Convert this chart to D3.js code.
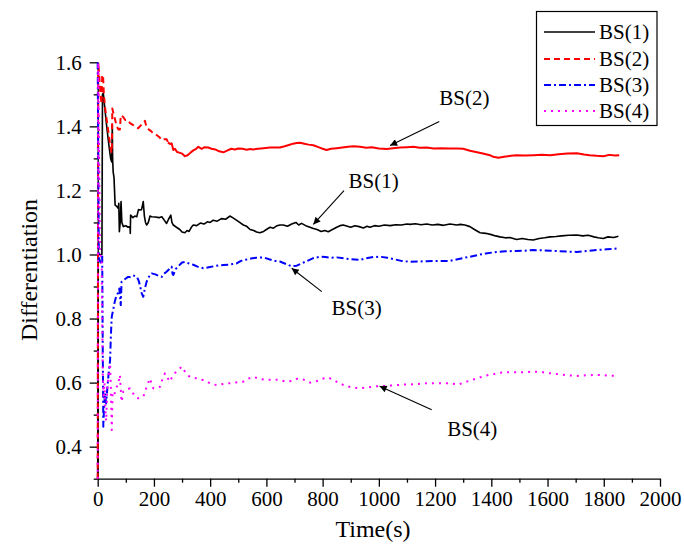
<!DOCTYPE html>
<html>
<head>
<meta charset="utf-8">
<script src="https://cdn.jsdelivr.net/npm/d3@7/dist/d3.min.js"></script>
<style>
  html, body { margin: 0; padding: 0; background: #fff; }
  svg { display: block; font-family: "Liberation Serif", "Times New Roman", serif; }
</style>
</head>
<body>
<svg id="chart" width="684" height="548"></svg>
<script>
// ---------- data (time in s, differentiation value) ----------
const seriesNames = ["BS(1)", "BS(2)", "BS(3)", "BS(4)"];

const bs1 = [[0,0.30],[2,1.00],[15,1.00],[17,1.50],[20,1.503],[26,1.451],[32,1.40],[40,1.34],[46,1.30],[50,1.289],[51,1.35],[52,1.404],[53,1.30],[55,1.258],[58,1.24],[62,1.154],[68,1.15],[73,1.144],[75,1.16],[77,1.071],[80,1.10],[83,1.165],[86,1.10],[91,1.087],[100,1.09],[108,1.085],[115,1.087],[116,1.066],[117,1.123],[125,1.115],[132,1.12],[139,1.118],[145,1.14],[150,1.139],[156,1.14],[162,1.165],[166,1.12],[170,1.10],[174,1.092],[180,1.10],[186,1.12],[192,1.118],[205,1.117],[218,1.115],[228,1.118],[236,1.108],[245,1.097],[252,1.11],[260,1.123],[264,1.10],[269,1.092],[280,1.085],[292,1.078],[300,1.07],[310,1.068],[318,1.075],[325,1.072],[333,1.085],[340,1.092],[352,1.09],[365,1.098],[378,1.095],[390,1.102],[400,1.10],[411,1.107],[425,1.104],[440,1.112],[455,1.11],[470,1.12],[480,1.115],[492,1.108],[505,1.10],[518,1.092],[530,1.088],[542,1.078],[555,1.075],[565,1.07],[577,1.068],[590,1.072],[600,1.078],[613,1.085],[625,1.082],[638,1.09],[648,1.092],[660,1.092],[675,1.088],[690,1.095],[705,1.10],[715,1.092],[725,1.097],[740,1.09],[755,1.085],[767,1.081],[780,1.078],[795,1.072],[808,1.075],[820,1.071],[835,1.078],[850,1.085],[862,1.09],[873,1.092],[888,1.088],[900,1.085],[915,1.09],[930,1.087],[945,1.083],[958,1.088],[968,1.085],[985,1.09],[1000,1.088],[1020,1.092],[1040,1.09],[1060,1.093],[1080,1.092],[1100,1.095],[1111,1.094],[1130,1.096],[1150,1.093],[1170,1.095],[1190,1.092],[1210,1.094],[1230,1.091],[1253,1.095],[1277,1.092],[1290,1.094],[1306,1.092],[1324,1.087],[1340,1.078],[1360,1.068],[1380,1.066],[1400,1.062],[1415,1.058],[1431,1.055],[1450,1.052],[1466,1.053],[1490,1.047],[1510,1.05],[1530,1.047],[1549,1.045],[1570,1.05],[1590,1.052],[1609,1.055],[1630,1.056],[1650,1.058],[1675,1.06],[1704,1.061],[1725,1.058],[1745,1.06],[1765,1.055],[1780,1.052],[1798,1.050],[1815,1.055],[1835,1.053],[1852,1.057]];

const bs2 = [[0,0.30],[2,1.60],[10,1.50],[14,1.47],[16,1.56],[19,1.56],[22,1.50],[26,1.46],[32,1.42],[40,1.37],[46,1.33],[50,1.317],[51,1.38],[52,1.456],[56,1.44],[62,1.42],[68,1.40],[74,1.39],[79,1.39],[81,1.42],[83,1.435],[90,1.43],[98,1.42],[106,1.42],[115,1.41],[125,1.405],[135,1.40],[144,1.394],[150,1.40],[156,1.405],[162,1.41],[168,1.417],[170,1.41],[175,1.395],[182,1.39],[190,1.385],[198,1.378],[206,1.375],[214,1.37],[221,1.365],[228,1.357],[238,1.36],[245,1.36],[250,1.35],[257,1.345],[263,1.347],[269,1.326],[275,1.33],[282,1.32],[290,1.318],[300,1.315],[310,1.307],[320,1.31],[330,1.318],[340,1.325],[350,1.33],[358,1.336],[370,1.33],[380,1.335],[393,1.334],[405,1.33],[418,1.328],[432,1.322],[447,1.319],[460,1.324],[475,1.33],[488,1.328],[500,1.331],[515,1.33],[530,1.327],[542,1.329],[553,1.328],[570,1.33],[590,1.332],[613,1.334],[630,1.334],[648,1.334],[665,1.338],[680,1.342],[695,1.346],[708,1.348],[720,1.349],[735,1.346],[750,1.343],[767,1.341],[785,1.335],[800,1.33],[814,1.326],[830,1.33],[850,1.332],[870,1.334],[890,1.336],[910,1.338],[933,1.336],[955,1.333],[975,1.335],[1000,1.331],[1028,1.329],[1050,1.332],[1075,1.334],[1100,1.335],[1123,1.336],[1145,1.333],[1170,1.334],[1195,1.331],[1220,1.332],[1253,1.331],[1280,1.331],[1300,1.33],[1324,1.324],[1345,1.32],[1370,1.315],[1395,1.31],[1407,1.305],[1425,1.302],[1445,1.305],[1470,1.308],[1490,1.31],[1520,1.309],[1550,1.31],[1580,1.311],[1609,1.31],[1640,1.313],[1670,1.315],[1704,1.316],[1730,1.312],[1750,1.31],[1775,1.308],[1798,1.307],[1820,1.311],[1840,1.309],[1855,1.31]];

const bs3 = [[0,1.60],[4,0.99],[10,0.975],[14,0.99],[16,1.0],[18,0.70],[20,0.462],[23,0.53],[26,0.567],[30,0.535],[34,0.58],[38,0.62],[44,0.67],[47,0.75],[50,0.806],[55,0.827],[60,0.85],[66,0.87],[72,0.88],[77,0.894],[82,0.842],[85,0.915],[92,0.92],[100,0.925],[108,0.93],[115,0.93],[125,0.935],[139,0.93],[145,0.92],[150,0.905],[156,0.88],[162,0.868],[168,0.895],[174,0.915],[182,0.93],[192,0.941],[205,0.938],[218,0.933],[228,0.93],[236,0.94],[245,0.946],[255,0.955],[263,0.962],[266,0.94],[269,0.936],[278,0.955],[293,0.969],[300,0.975],[310,0.977],[325,0.972],[340,0.968],[355,0.962],[376,0.957],[395,0.96],[412,0.963],[430,0.966],[447,0.967],[465,0.968],[480,0.97],[494,0.972],[505,0.978],[518,0.983],[535,0.985],[550,0.988],[565,0.99],[589,0.991],[610,0.985],[630,0.98],[648,0.978],[665,0.972],[690,0.963],[708,0.965],[725,0.972],[745,0.98],[765,0.988],[791,0.993],[810,0.992],[830,0.99],[850,0.991],[875,0.988],[900,0.985],[933,0.983],[955,0.988],[980,0.992],[1004,0.993],[1030,0.99],[1055,0.985],[1080,0.98],[1111,0.977],[1140,0.978],[1170,0.979],[1206,0.98],[1230,0.98],[1253,0.98],[1280,0.985],[1305,0.99],[1324,0.993],[1350,0.998],[1380,1.003],[1419,1.008],[1450,1.01],[1490,1.011],[1520,1.012],[1549,1.014],[1580,1.013],[1610,1.012],[1640,1.01],[1670,1.009],[1704,1.008],[1740,1.011],[1775,1.014],[1810,1.016],[1852,1.019]];

const bs4 = [[0,0.30],[2,1.60],[8,1.0],[14,0.99],[16,0.80],[18,0.62],[21,0.55],[24,0.60],[27,0.52],[30,0.48],[34,0.58],[38,0.62],[41,0.64],[44,0.66],[47,0.58],[50,0.452],[53,0.567],[58,0.56],[65,0.58],[73,0.598],[79,0.624],[82,0.58],[85,0.54],[91,0.572],[100,0.575],[108,0.58],[115,0.582],[125,0.568],[135,0.555],[144,0.551],[152,0.553],[162,0.556],[168,0.57],[174,0.587],[180,0.60],[186,0.613],[192,0.595],[198,0.582],[210,0.585],[222,0.587],[230,0.61],[239,0.629],[248,0.615],[257,0.603],[263,0.615],[269,0.624],[280,0.635],[290,0.642],[299,0.65],[310,0.635],[320,0.623],[328,0.618],[345,0.615],[360,0.61],[376,0.608],[395,0.60],[410,0.595],[423,0.592],[440,0.595],[455,0.597],[470,0.598],[490,0.60],[505,0.602],[518,0.603],[535,0.612],[553,0.618],[575,0.612],[600,0.608],[625,0.61],[648,0.608],[670,0.603],[690,0.605],[710,0.612],[730,0.61],[755,0.60],[775,0.603],[800,0.612],[820,0.616],[840,0.608],[860,0.598],[880,0.59],[905,0.585],[933,0.582],[960,0.585],[985,0.588],[1004,0.589],[1030,0.59],[1060,0.592],[1090,0.594],[1111,0.594],[1140,0.596],[1170,0.598],[1200,0.598],[1229,0.598],[1253,0.598],[1283,0.594],[1312,0.603],[1348,0.613],[1380,0.622],[1410,0.627],[1431,0.631],[1470,0.633],[1510,0.632],[1545,0.634],[1573,0.634],[1600,0.63],[1632,0.627],[1670,0.623],[1704,0.621],[1740,0.623],[1787,0.624],[1815,0.622],[1840,0.621]];

const xMajorTicks = [0,200,400,600,800,1000,1200,1400,1600,1800,2000];
const xMinorTicks = [100,300,500,700,900,1100,1300,1500,1700,1900];
const yMajorTicks = [0.4,0.6,0.8,1.0,1.2,1.4,1.6];
const yMinorTicks = [0.3,0.5,0.7,0.9,1.1,1.3,1.5];

// annotation: label position (t,v), arrow start (t,v), arrow tip (t,v)
const annotations = [
  {label:"BS(2)", tx:1215, tv:1.466, x1:1215, v1:1.415, x2:1040, v2:1.340},
  {label:"BS(1)", tx:892,  tv:1.207, x1:876,  v1:1.199, x2:767,  v2:1.094},
  {label:"BS(3)", tx:832,  tv:0.811, x1:797,  v1:0.884, x2:690,  v2:0.957},
  {label:"BS(4)", tx:1243, tv:0.432, x1:1188, v1:0.515, x2:1003, v2:0.589}
];

// ---------- drawing ----------
const svg = d3.select("#chart");
const x = d3.scaleLinear().domain([0, 2000]).range([97.7, 660]);
const y = d3.scaleLinear().domain([0.3, 1.6]).range([478.7, 62.3]);

const styles = [
  {color:"#000000", width:1.6, dash:null},
  {color:"#ff0000", width:2, dash:"6,4"},
  {color:"#0000ff", width:2, dash:"7,3,2,3"},
  {color:"#ff00ff", width:2, dash:"2,5"}
];
const allSeries = [bs1, bs2, bs3, bs4];

const fontFam = '"Liberation Serif", "Times New Roman", serif';

// axes
const gx = svg.append("g").attr("transform", `translate(0,${y.range()[0]})`);
gx.call(d3.axisBottom(x).tickValues(xMajorTicks).tickSize(8).tickSizeOuter(0).tickPadding(4).tickFormat(d3.format("d")));
const gxm = svg.append("g").attr("transform", `translate(0,${y.range()[0]})`);
gxm.call(d3.axisBottom(x).tickValues(xMinorTicks).tickSize(4).tickSizeOuter(0).tickFormat(""));
gxm.select(".domain").remove();

const gy = svg.append("g").attr("transform", `translate(${x.range()[0]},0)`);
gy.call(d3.axisLeft(y).tickValues(yMajorTicks).tickSize(8).tickSizeOuter(0).tickPadding(8).tickFormat(d3.format(".1f")));
const gym = svg.append("g").attr("transform", `translate(${x.range()[0]},0)`);
gym.call(d3.axisLeft(y).tickValues(yMinorTicks).tickSize(4).tickSizeOuter(0).tickFormat(""));
gym.select(".domain").remove();

svg.selectAll(".tick text").attr("font-size", 21).attr("font-family", fontFam).attr("fill", "#000");
svg.selectAll(".domain, .tick line").attr("stroke", "#000").attr("stroke-width", 1.3);

// lines (the dense, jittery tail of BS(2) renders as a continuous stroke in the original)
const line = d3.line().x(d => x(d[0])).y(d => y(d[1]));
const splitT = 250;
allSeries.forEach((data, i) => {
  const s = styles[i];
  const parts = (i === 1)
    ? [{d: data.filter(p => p[0] <= splitT), dash: s.dash}, {d: data.filter(p => p[0] >= splitT), dash: null}]
    : [{d: data, dash: s.dash}];
  parts.forEach(p => {
    svg.append("path")
      .datum(p.d)
      .attr("d", line)
      .attr("fill", "none")
      .attr("stroke", s.color)
      .attr("stroke-width", s.width)
      .attr("stroke-linejoin", "round")
      .attr("stroke-dasharray", p.dash);
  });
});

// axis titles
svg.append("text").attr("x", 373).attr("y", 537).attr("text-anchor", "middle")
  .attr("font-size", 24).attr("font-family", fontFam).text("Time(s)");
svg.append("text").attr("transform", "translate(37,270) rotate(-90)").attr("text-anchor", "middle")
  .attr("font-size", 24).attr("font-family", fontFam).text("Differentiation");

// arrow marker
svg.append("defs").append("marker")
  .attr("id", "arrow").attr("viewBox", "0 0 10 10").attr("refX", 10).attr("refY", 5)
  .attr("markerWidth", 11).attr("markerHeight", 7).attr("markerUnits", "userSpaceOnUse")
  .attr("orient", "auto")
  .append("path").attr("d", "M0,0 L10,5 L0,10 Z").attr("fill", "#000");

annotations.forEach(a => {
  svg.append("line")
    .attr("x1", x(a.x1)).attr("y1", y(a.v1)).attr("x2", x(a.x2)).attr("y2", y(a.v2))
    .attr("stroke", "#000").attr("stroke-width", 1.1).attr("marker-end", "url(#arrow)");
  svg.append("text").attr("x", x(a.tx)).attr("y", y(a.tv))
    .attr("font-size", 21).attr("font-family", fontFam).text(a.label);
});

// legend
const lg = svg.append("g");
lg.append("rect").attr("x", 536.5).attr("y", 11.5).attr("width", 120.5).attr("height", 114)
  .attr("fill", "#fff").attr("stroke", "#000").attr("stroke-width", 1.2);
const rowsY = [32, 59, 85, 111];
seriesNames.forEach((name, i) => {
  const s = styles[i];
  lg.append("line").attr("x1", 544).attr("x2", 595).attr("y1", rowsY[i]).attr("y2", rowsY[i])
    .attr("stroke", s.color).attr("stroke-width", s.width).attr("stroke-dasharray", s.dash);
  lg.append("text").attr("x", 599).attr("y", rowsY[i] + 7)
    .attr("font-size", 21).attr("font-family", fontFam).text(name);
});
</script>
</body>
</html>
